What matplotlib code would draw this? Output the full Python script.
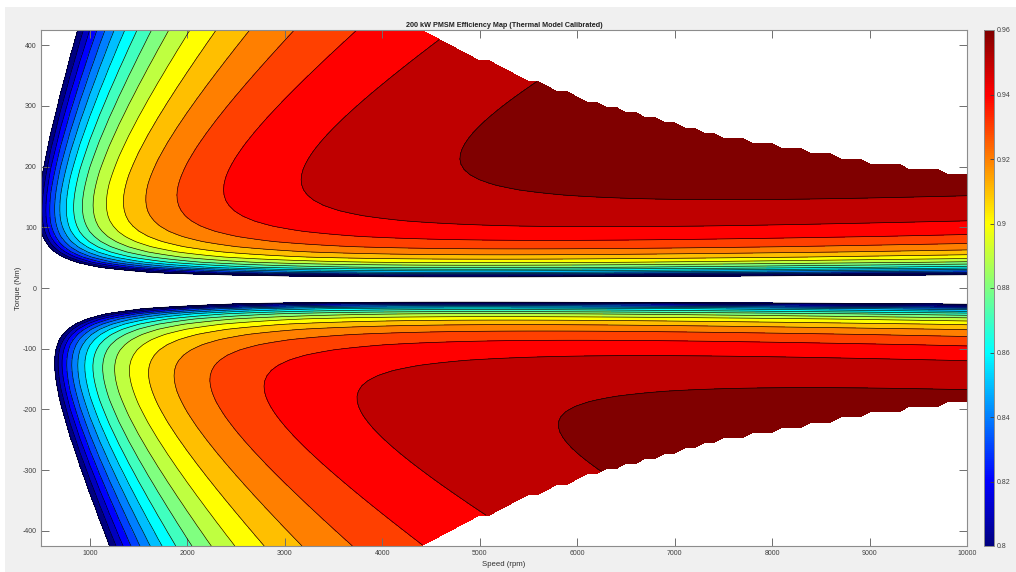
import numpy as np
import matplotlib
matplotlib.use('Agg')
import matplotlib.pyplot as plt
from matplotlib.colors import ListedColormap, Normalize
from matplotlib.patches import Rectangle
import matplotlib.cm as cm

plt.rcParams['font.family'] = ['Liberation Sans', 'DejaVu Sans']
plt.rcParams['axes.unicode_minus'] = False

# machine rating and operating grid
rated_power_w = 200e3
speed_rpm = np.arange(500, 10001, 100)
torque_nm = np.linspace(-425, 425, 101)

# loss model (W): fixed + friction/iron terms in speed, copper term in torque
loss_const_w = 700.0
loss_lin_w = 1.65      # W per rad/s
loss_quad_w = 0.0028   # W per (rad/s)^2
copper_k_mot = 0.049   # W per Nm^2, motoring
copper_k_gen = 0.054   # W per Nm^2, generating (hotter winding)

# contour levels and colour scale
eff_levels = [0.80, 0.81, 0.82, 0.83, 0.84, 0.85, 0.86, 0.87, 0.88,
              0.89, 0.90, 0.91, 0.92, 0.93, 0.94, 0.95, 0.96]
cbar_ticks = [0.80, 0.82, 0.84, 0.86, 0.88, 0.90, 0.92, 0.94, 0.96]
speed_ticks = [1000, 2000, 3000, 4000, 5000, 6000, 7000, 8000, 9000, 10000]
torque_ticks = [-400, -300, -200, -100, 0, 100, 200, 300, 400]


def jet(x):
    x = np.clip(np.asarray(x, dtype=float), 0, 1)
    r = np.clip(1.5 - np.abs(4 * x - 3), 0, 1)
    g = np.clip(1.5 - np.abs(4 * x - 2), 0, 1)
    b = np.clip(1.5 - np.abs(4 * x - 1), 0, 1)
    return np.stack([r, g, b], axis=-1)


N, T = np.meshgrid(speed_rpm, torque_nm)
w = N * np.pi / 30
p_mech = T * w
copper_k = np.where(T >= 0, copper_k_mot, copper_k_gen)
loss = loss_const_w + loss_lin_w * w + loss_quad_w * w ** 2 + copper_k * T ** 2

eff = np.zeros_like(p_mech)
mot = T > 0
gen = T < 0
eff[mot] = p_mech[mot] / (p_mech[mot] + loss[mot])
eff[gen] = (np.abs(p_mech[gen]) - loss[gen]) / np.abs(p_mech[gen])
eff = np.clip(eff, 0, 1)

# outside the power envelope
t_max = rated_power_w / w
eff = np.ma.masked_where(np.abs(T) > t_max, eff)

lo, hi = eff_levels[0], eff_levels[-1]
fill_levels = eff_levels + [1.0]
band_colors = [tuple(jet((v - lo) / (hi - lo))) for v in eff_levels]

fig = plt.figure(figsize=(10.16, 5.72), dpi=100, facecolor='white')
fig.patches.append(Rectangle((5 / 1016, 0), 1, 1 - 7 / 572, transform=fig.transFigure,
                             facecolor='#f0f0f0', edgecolor='none', zorder=-10))

ax = fig.add_axes([41 / 1016, 1 - 546 / 572, 926 / 1016, 516 / 572])
ax.set_facecolor('white')
ax.contourf(N, T, eff, levels=fill_levels, colors=band_colors)
ax.contour(N, T, eff, levels=eff_levels, colors='k', linewidths=0.45)

ax.set_xlim(500, 10000)
ax.set_ylim(-425, 425)
ax.set_xticks(speed_ticks)
ax.set_yticks(torque_ticks)
ax.tick_params(direction='in', top=True, right=True, length=6, width=0.7,
               color='#6e6e6e', labelsize=5, labelcolor='#404040', pad=3)
for s in ax.spines.values():
    s.set_color('#8c8c8c')
    s.set_linewidth(0.8)

ax.set_title('200 kW PMSM Efficiency Map (Thermal Model Calibrated)',
             fontsize=5.2, fontweight='bold', pad=2.5, color='#202020')
ax.set_xlabel('Speed (rpm)', fontsize=5.6, color='#303030', labelpad=3)
ax.set_ylabel('Torque (Nm)', fontsize=5.6, color='#303030', labelpad=0.5)

cax = fig.add_axes([983.5 / 1016, 1 - 546 / 572, 10.5 / 1016, 516 / 572])
cmap = ListedColormap(jet(np.linspace(0, 1, 256)))
sm = cm.ScalarMappable(norm=Normalize(lo, hi), cmap=cmap)
cb = fig.colorbar(sm, cax=cax, ticks=cbar_ticks)
cb.ax.set_yticklabels(['%g' % v for v in cbar_ticks])
cb.ax.tick_params(direction='in', length=3, width=0.6, color='#404040',
                  labelsize=5, labelcolor='#404040', pad=2)
cb.outline.set_edgecolor('#8c8c8c')
cb.outline.set_linewidth(0.7)

fig.savefig('out.png', dpi=100, facecolor=fig.get_facecolor())
